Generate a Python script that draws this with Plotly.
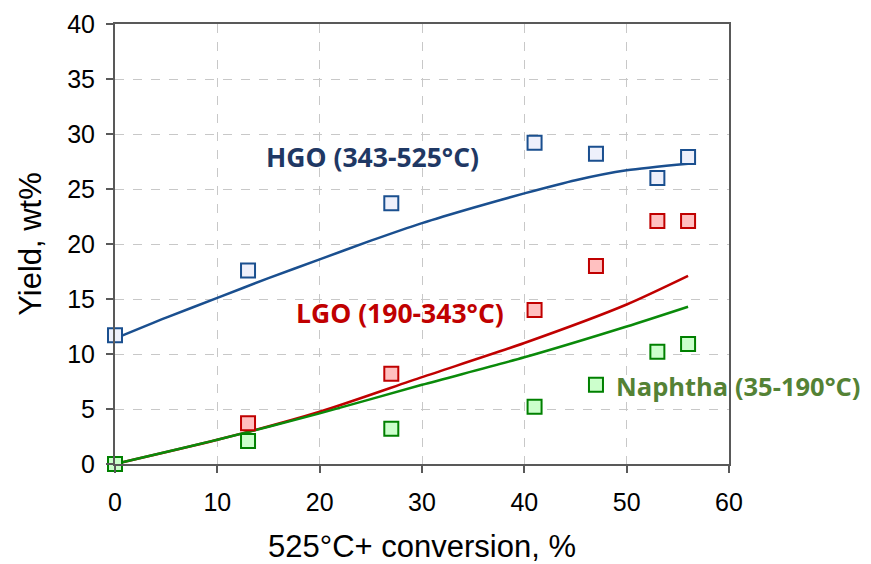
import plotly.graph_objects as go

# Measured data points
conv = [0, 13, 27, 41, 47, 53, 56]
hgo_pts = [11.7, 17.6, 23.7, 29.2, 28.2, 26.0, 27.9]
lgo_pts = [0.0, 3.7, 8.2, 14.0, 18.0, 22.1, 22.1]
nap_pts = [0.0, 2.1, 3.2, 5.2, 7.2, 10.2, 10.9]

# Fitted curves
hgo_fit_x = [0, 5, 10, 15, 20, 25, 30, 35, 40, 45, 50, 56]
hgo_fit_y = [11.4, 13.3, 15.1, 16.9, 18.6, 20.3, 21.9, 23.3, 24.6, 25.8, 26.7, 27.3]
lgo_fit_x = [0, 10, 20, 30, 40, 50, 56]
lgo_fit_y = [0.0, 2.2, 4.75, 7.9, 11.0, 14.5, 17.1]
nap_fit_x = [0, 10, 20, 30, 40, 50, 56]
nap_fit_y = [0.0, 2.2, 4.6, 7.2, 9.7, 12.5, 14.3]

x_ticks = [0, 10, 20, 30, 40, 50, 60]
y_ticks = [0, 5, 10, 15, 20, 25, 30, 35, 40]

BLUE = "#1a4f8f"
RED = "#c00000"
GREEN = "#0a8a0a"

fig = go.Figure()

for fx, fy, col in [(hgo_fit_x, hgo_fit_y, BLUE), (lgo_fit_x, lgo_fit_y, RED), (nap_fit_x, nap_fit_y, GREEN)]:
    fig.add_trace(go.Scatter(x=fx, y=fy, mode="lines", line=dict(color=col, width=2.5, shape="spline", smoothing=0.7),
                             showlegend=False, hoverinfo="skip"))

for ys, edge, fill in [(hgo_pts, "#1a4f8f", "#eef0fb"), (lgo_pts, "#c00000", "#ffc0c0"), (nap_pts, "#008000", "#ccffcc")]:
    fig.add_trace(go.Scatter(x=conv, y=ys, mode="markers", cliponaxis=False,
                             marker=dict(symbol="square", size=14, color=fill, line=dict(color=edge, width=2)),
                             showlegend=False))

ann_font = "Open Sans"
ann_size = 26.5
fig.add_annotation(x=0.2427, xref="x domain", y=27.9, yref="y", text="<b>HGO (343-525°C)</b>",
                   showarrow=False, xanchor="left", yanchor="middle",
                   font=dict(family=ann_font, size=ann_size, color="#1f3864"))
fig.add_annotation(x=0.2915, xref="x domain", y=13.7, yref="y", text="<b>LGO (190-343°C)</b>",
                   showarrow=False, xanchor="left", yanchor="middle",
                   font=dict(family=ann_font, size=ann_size, color="#c00000"))
fig.add_annotation(x=0.8127, xref="x domain", y=7.1, yref="y", text="<b>Naphtha (35-190°C)</b>",
                   showarrow=False, xanchor="left", yanchor="middle",
                   font=dict(family=ann_font, size=25.5, color="#548235"))

axis_common = dict(showline=True, linecolor="#595959", linewidth=2, mirror=True,
                   showgrid=True, gridcolor="#c8c8c8", griddash="dash", gridwidth=1,
                   ticks="outside", ticklen=7, tickcolor="#595959", tickwidth=1.5,
                   zeroline=False, automargin=False,
                   tickfont=dict(family="Liberation Sans", size=25, color="#000000"))

fig.update_xaxes(range=[0, 60], tickvals=x_ticks, ticktext=[str(v) for v in x_ticks],
                 ticklabelstandoff=8,
                 title=dict(text="525°C+ conversion, %", font=dict(family="Liberation Sans", size=31, color="#000000"), standoff=30),
                 **axis_common)
fig.update_yaxes(range=[0, 40], tickvals=y_ticks, ticktext=[str(v) for v in y_ticks],
                 ticklabelstandoff=6,
                 title=dict(text="Yield, wt%", font=dict(family="Liberation Sans", size=31, color="#000000"), standoff=16),
                 **axis_common)

# page body has an 8px default margin, so the figure is 8px smaller each way
fig.update_layout(width=863, height=556, margin=dict(l=107, r=142, t=16, b=100),
                  plot_bgcolor="white", paper_bgcolor="white")

fig.write_html("out.html")
